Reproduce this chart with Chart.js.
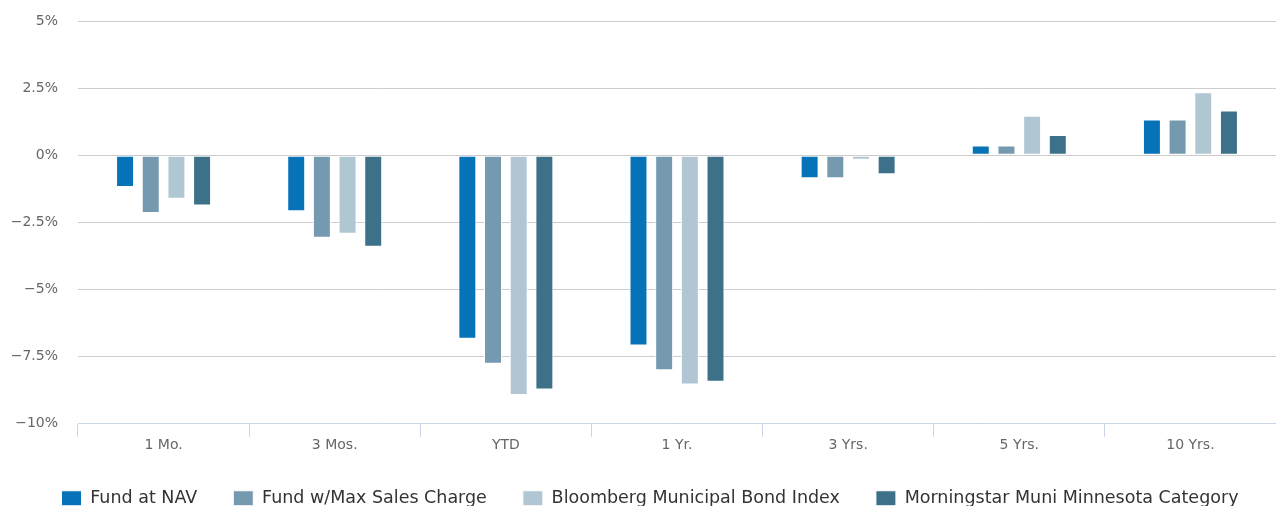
<!DOCTYPE html>
<html>
<head>
<meta charset="utf-8">
<script src="https://cdn.jsdelivr.net/npm/chart.js@4"></script>
<style>
  html, body { margin: 0; padding: 0; background: #fff; width: 1276px; height: 506px; overflow: hidden; }
  #clip { width: 1276px; height: 506px; overflow: hidden; }
  #wrap { position: relative; width: 1276px; height: 517px; }
</style>
</head>
<body>
<div id="clip"><div id="wrap"><canvas id="perf-chart"></canvas></div></div>
<script>
const periods = ["1 Mo.", "3 Mos.", "YTD", "1 Yr.", "3 Yrs.", "5 Yrs.", "10 Yrs."];
const fundNav = [-1.18, -2.09, -6.84, -7.09, -0.86, 0.36, 1.33];
const fundMaxCharge = [-2.15, -3.07, -7.77, -8.01, -0.86, 0.36, 1.33];
const bondIndex = [-1.62, -2.92, -8.93, -8.54, -0.17, 1.47, 2.35];
const mnCategory = [-1.87, -3.41, -8.73, -8.44, -0.71, 0.75, 1.67];

const blue = "#0673b8";
const greyBlue = "#7599ae";
const paleBlue = "#b0c7d3";
const slate = "#3d7189";
const fontFamily = "'DejaVu Sans', Verdana, sans-serif";

const ctx = document.getElementById("perf-chart").getContext("2d");

function bars(label, data, color) {
  return {
    label: label,
    data: data,
    backgroundColor: color,
    borderColor: "#ffffff",
    borderWidth: 1,
    borderSkipped: false,
    categoryPercentage: 0.6,
    barPercentage: 0.7,
  };
}

let chartData = {
  labels: periods,
  datasets: [
    bars("Fund at NAV", fundNav, blue),
    bars("Fund w/Max Sales Charge", fundMaxCharge, greyBlue),
    bars("Bloomberg Municipal Bond Index", bondIndex, paleBlue),
    bars("Morningstar Muni Minnesota Category", mnCategory, slate),
  ],
};

// nudge legend a bit right, like the original
const legendShift = {
  id: "legendShift",
  afterLayout(chart) {
    chart.legend.left += 12;
    chart.legend.right += 12;
  },
};

let chartOptions = {
  responsive: true,
  maintainAspectRatio: false,
  animation: false,
  layout: { padding: { top: 21, right: 0, left: 0, bottom: 0 } },
  plugins: {
    tooltip: { enabled: false },
    legend: {
      position: "bottom",
      labels: {
        boxWidth: 20,
        boxHeight: 15,
        padding: 36,
        color: "#333333",
        font: { family: fontFamily, size: 17.5 },
      },
    },
  },
  scales: {
    x: {
      offset: true,
      grid: {
        offset: true,
        drawOnChartArea: false,
        drawTicks: true,
        tickLength: 13,
        color: "#ccd6eb",
      },
      border: { color: "#ccd6eb" },
      ticks: {
        color: "#666666",
        padding: 0,
        font: { family: fontFamily, size: 14 },
      },
    },
    y: {
      min: -10,
      max: 5,
      afterFit: (s) => { s.width = 78; },
      ticks: {
        stepSize: 2.5,
        color: "#666666",
        padding: 0,
        font: { family: fontFamily, size: 14 },
        callback: (v) => (v < 0 ? "\u2212" + Math.abs(v) : v) + "%",
      },
      grid: { color: "#cccccc", drawTicks: true, tickLength: 20, tickColor: "rgba(0,0,0,0)" },
      border: { display: false },
    },
  },
};

const perfChart = new Chart(ctx, {
  type: "bar",
  data: chartData,
  options: chartOptions,
  plugins: [legendShift],
});
</script>
</body>
</html>
